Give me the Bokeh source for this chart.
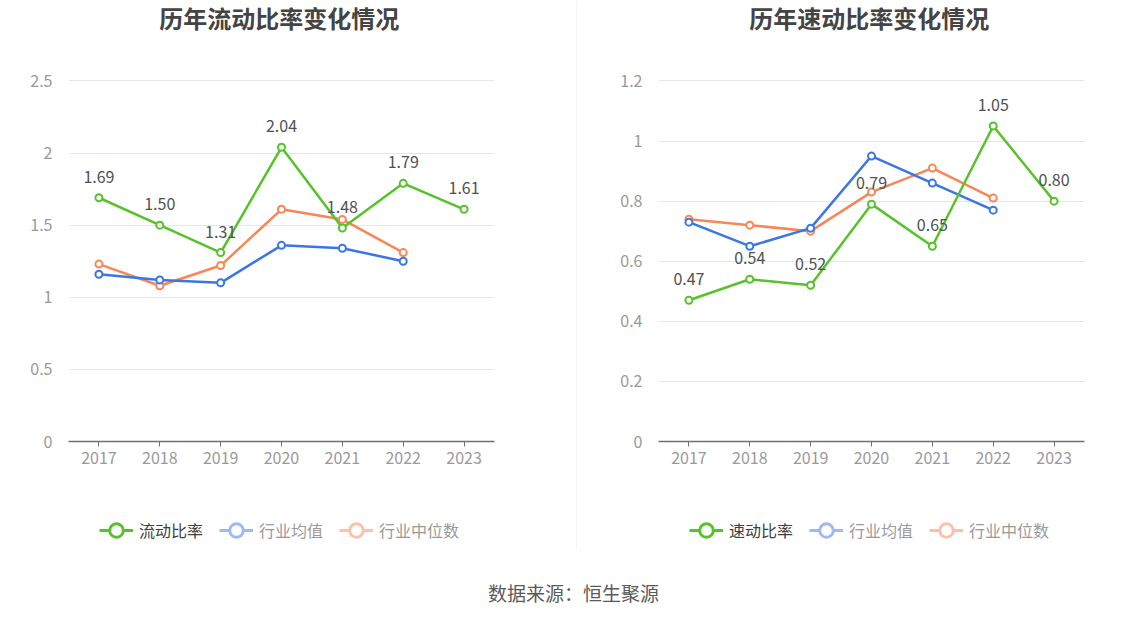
from bokeh.plotting import figure
from bokeh.models import ColumnDataSource, FactorRange, Range1d, FixedTicker, Legend, LegendItem
from bokeh.layouts import column, row
from bokeh.embed import file_html
from bokeh.resources import INLINE
from bokeh.core.properties import value

years = ["2017", "2018", "2019", "2020", "2021", "2022", "2023"]
years_ind = ["2017", "2018", "2019", "2020", "2021", "2022"]

current_ratio = [1.69, 1.50, 1.31, 2.04, 1.48, 1.79, 1.61]
current_avg = [1.16, 1.12, 1.10, 1.36, 1.34, 1.25]
current_median = [1.23, 1.08, 1.22, 1.61, 1.54, 1.31]
current_ticks = [0, 0.5, 1, 1.5, 2, 2.5]
current_tick_labels = ["0", "0.5", "1", "1.5", "2", "2.5"]

quick_ratio = [0.47, 0.54, 0.52, 0.79, 0.65, 1.05, 0.80]
quick_avg = [0.73, 0.65, 0.71, 0.95, 0.86, 0.77]
quick_median = [0.74, 0.72, 0.70, 0.83, 0.91, 0.81]
quick_ticks = [0, 0.2, 0.4, 0.6, 0.8, 1.0, 1.2]
quick_tick_labels = ["0", "0.2", "0.4", "0.6", "0.8", "1", "1.2"]

legend_avg = "行业均值"
legend_median = "行业中位数"

FONT = "Noto Sans CJK SC"
GREEN = "#57c22a"
BLUE = "#3a77e5"
ORANGE = "#f98656"
GREEN_L = "#57c22a"
BLUE_L = "#9dbaf2"
ORANGE_L = "#fcc1a8"

TITLE_H = 40
CHART_H = 450
LEG_H = 60


def blank(width, height, xr, yr):
    q = figure(width=width, height=height, x_range=xr, y_range=yr,
               output_backend="svg", toolbar_location=None, min_border=0,
               x_axis_type=None, y_axis_type=None)
    q.outline_line_color = None
    q.grid.grid_line_color = None
    return q


def make_title(width, text):
    q = blank(width, TITLE_H, Range1d(0, 1), Range1d(0, TITLE_H))
    q.text(x=[0.495], y=[TITLE_H - 17], text=[text], text_align="center",
           text_baseline="middle", text_font=value(FONT), text_font_size="24px",
           text_font_style="bold", text_color="#444444")
    return q


def make_chart(main, avg, median, ymax, ticks, tick_labels, width, left, right):
    p = figure(width=width, height=CHART_H, x_range=FactorRange(*years, range_padding=0),
               y_range=Range1d(0, ymax * 1.004), output_backend="svg", toolbar_location=None,
               min_border_left=left, min_border_right=right, min_border_top=TITLE_H - 1,
               min_border_bottom=49)
    p.outline_line_color = None

    p.xgrid.grid_line_color = None
    p.ygrid.grid_line_color = "#e3e7f1"
    p.ygrid.ticker = FixedTicker(ticks=ticks)

    p.yaxis.ticker = FixedTicker(ticks=ticks)
    p.yaxis.major_label_overrides = {t: l for t, l in zip(ticks, tick_labels)}
    p.yaxis.axis_line_color = None
    p.yaxis.major_tick_line_color = None
    p.yaxis.minor_tick_line_color = None
    p.yaxis.major_label_text_color = "#9a9a9a"
    p.yaxis.major_label_text_font = FONT
    p.yaxis.major_label_text_font_size = "16px"
    p.yaxis.major_label_standoff = 10

    p.xaxis.axis_line_color = "#6e7079"
    p.xaxis.axis_line_width = 1.5
    p.xaxis.major_tick_line_color = "#6e7079"
    p.xaxis.major_tick_in = 0
    p.xaxis.major_tick_out = 5
    p.xaxis.major_label_text_color = "#9a9a9a"
    p.xaxis.major_label_text_font = FONT
    p.xaxis.major_label_text_font_size = "16px"
    p.xaxis.major_label_standoff = 5

    src_main = ColumnDataSource(dict(x=years, y=main, t=[f"{v:.2f}" for v in main]))
    src_ind = ColumnDataSource(dict(x=years_ind, a=avg, m=median))

    p.line("x", "m", source=src_ind, line_color=ORANGE, line_width=2.5)
    p.scatter("x", "m", source=src_ind, size=7, line_color=ORANGE, line_width=2, fill_color="white")
    p.line("x", "a", source=src_ind, line_color=BLUE, line_width=2.5)
    p.scatter("x", "a", source=src_ind, size=7, line_color=BLUE, line_width=2, fill_color="white")
    p.line("x", "y", source=src_main, line_color=GREEN, line_width=2.5)
    p.scatter("x", "y", source=src_main, size=7, line_color=GREEN, line_width=2, fill_color="white")
    p.text("x", "y", text="t", source=src_main, y_offset=-21, text_align="center",
           text_baseline="middle", text_font=value(FONT), text_font_size="16px",
           text_color="#505050")
    return p


def make_legend(width, main_name, xs):
    q = blank(width, LEG_H, Range1d(0, width), Range1d(0, LEG_H))
    specs = [(main_name, GREEN_L, "#404040"), (legend_avg, BLUE_L, "#9a9a9a"),
             (legend_median, ORANGE_L, "#9a9a9a")]
    for (name, col, tcol), lx in zip(specs, xs):
        r1 = q.line(x=[-50, -40], y=[-50, -40], line_color=col, line_width=3)
        r2 = q.scatter(x=[-50], y=[-50], size=12, line_color=col, line_width=3, fill_color="white")
        lg = Legend(items=[LegendItem(label=name, renderers=[r1, r2])], location=(lx, 0),
                    orientation="horizontal", padding=0, margin=0, border_line_alpha=0,
                    background_fill_alpha=0, glyph_width=34, glyph_height=40,
                    label_standoff=6, label_text_font_size="16px", label_text_color=tcol,
                    label_text_font=FONT, label_text_baseline="middle")
        q.add_layout(lg, "center")
    return q


p1 = make_chart(current_ratio, current_avg, current_median,
                2.5, current_ticks, current_tick_labels, 576, 68, 82)
p2 = make_chart(quick_ratio, quick_avg, quick_median,
                1.2, quick_ticks, quick_tick_labels, 571, 81, 64)
t1 = make_title(576, "历年流动比率变化情况")
t2 = make_title(571, "历年速动比率变化情况")
l1 = make_legend(576, "流动比率", [31, 151, 271])
l2 = make_legend(571, "速动比率", [31, 151, 271])

sep = figure(width=1, height=TITLE_H + CHART_H + LEG_H, output_backend="svg",
             toolbar_location=None, min_border=0, x_axis_type=None, y_axis_type=None)
sep.outline_line_color = None
sep.background_fill_color = "#eeeeee"
sep.border_fill_color = "#eeeeee"
sep.grid.grid_line_color = None

foot = blank(1148, 69, Range1d(0, 1148), Range1d(0, 69))
foot.text(x=[573], y=[27], text=["数据来源：恒生聚源"], text_align="center",
          text_baseline="middle", text_font=value(FONT), text_font_size="19px",
          text_color="#5a5a5a")

layout = column(row(column(t1, p1, l1, spacing=0), sep, column(t2, p2, l2, spacing=0), spacing=0),
                foot, spacing=0)
open("out.html", "w").write(file_html(layout, INLINE))
